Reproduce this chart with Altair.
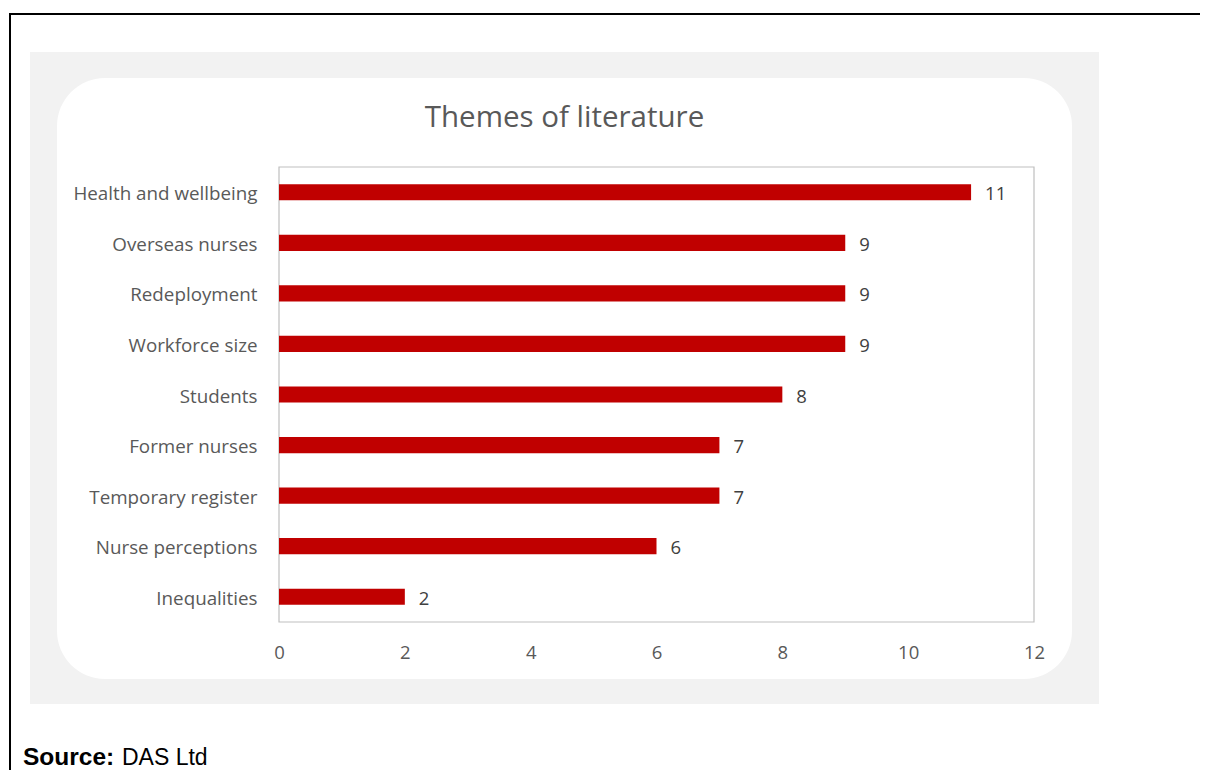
import altair as alt
import pandas as pd

# ---- data ----
categories = ["Health and wellbeing", "Overseas nurses", "Redeployment", "Workforce size",
              "Students", "Former nurses", "Temporary register", "Nurse perceptions", "Inequalities"]
values = [11, 9, 9, 9, 8, 7, 7, 6, 2]
x_ticks = [0, 2, 4, 6, 8, 10, 12]
title_text = "Themes of literature"
source_bold = "Source:"
source_rest = "DAS Ltd"

W, H = 755, 455
df = pd.DataFrame({"theme": categories, "count": values})
one = pd.DataFrame({"k": [0]})

FONT = "Open Sans"
GREY = "#595959"

gray_bg = alt.Chart(one).mark_rect(fill="#F2F2F2").encode(
    x=alt.value(-249), x2=alt.value(820), y=alt.value(-115), y2=alt.value(537))
white_bg = alt.Chart(one).mark_rect(fill="white", cornerRadius=48).encode(
    x=alt.value(-222), x2=alt.value(793), y=alt.value(-89), y2=alt.value(512))
border_v = alt.Chart(one).mark_rule(color="black", strokeWidth=2).encode(
    x=alt.value(-269), y=alt.value(-154), y2=alt.value(610))
border_h = alt.Chart(one).mark_rule(color="black", strokeWidth=2).encode(
    x=alt.value(-270), x2=alt.value(925), y=alt.value(-153))
box = alt.Chart(one).mark_rect(fillOpacity=0, stroke="#BFBFBF", strokeWidth=1.2).encode(
    x=alt.value(0), x2=alt.value(W), y=alt.value(0), y2=alt.value(H))

x_enc = alt.X("count:Q", scale=alt.Scale(domain=[0, 12], nice=False, zero=True),
              axis=alt.Axis(values=x_ticks, grid=False, domain=False, ticks=False,
                            labelFontSize=18.5, labelFont=FONT, labelColor=GREY,
                            labelPadding=21, labelFlush=False, title=None, zindex=1,
                            format="d"))
y_enc = alt.Y("theme:N", sort=categories,
              scale=alt.Scale(paddingInner=0.68, paddingOuter=0.34),
              axis=alt.Axis(domain=False, ticks=False, grid=False, labelFontSize=18.8,
                            labelFont=FONT, labelColor=GREY, labelPadding=22,
                            labelOffset=2, labelLimit=400, title=None, zindex=1))

bars = alt.Chart(df).mark_bar(color="#C00000").encode(x=x_enc, y=y_enc)
labels = alt.Chart(df).mark_text(align="left", dx=14, dy=2, fontSize=18.5, font=FONT,
                                 color="#404040").encode(
    x=alt.X("count:Q"), y=alt.Y("theme:N", sort=categories), text=alt.Text("count:Q"))

title = alt.Chart(one).mark_text(fontSize=29.5, font=FONT, color=GREY).encode(
    x=alt.value(285.5), y=alt.value(-49), text=alt.value(title_text))
src1 = alt.Chart(one).mark_text(align="left", fontSize=24.5, font="Liberation Sans",
                                fontWeight="bold", color="black").encode(
    x=alt.value(-256), y=alt.value(591), text=alt.value(source_bold))
src2 = alt.Chart(one).mark_text(align="left", fontSize=23, font="Liberation Sans",
                                color="black").encode(
    x=alt.value(-157), y=alt.value(591), text=alt.value(source_rest))

chart = alt.layer(gray_bg, white_bg, border_v, border_h, box, bars, labels, title, src1, src2).properties(
    width=W, height=H,
    padding={"left": 271, "top": 159, "right": 1192 - 271 - W, "bottom": 762 - 159 - H},
    autosize=alt.AutoSizeParams(type="none"),
).configure_view(stroke=None).configure(background="white")

chart.save("out.html", embed_options={"renderer": "svg", "actions": False})
